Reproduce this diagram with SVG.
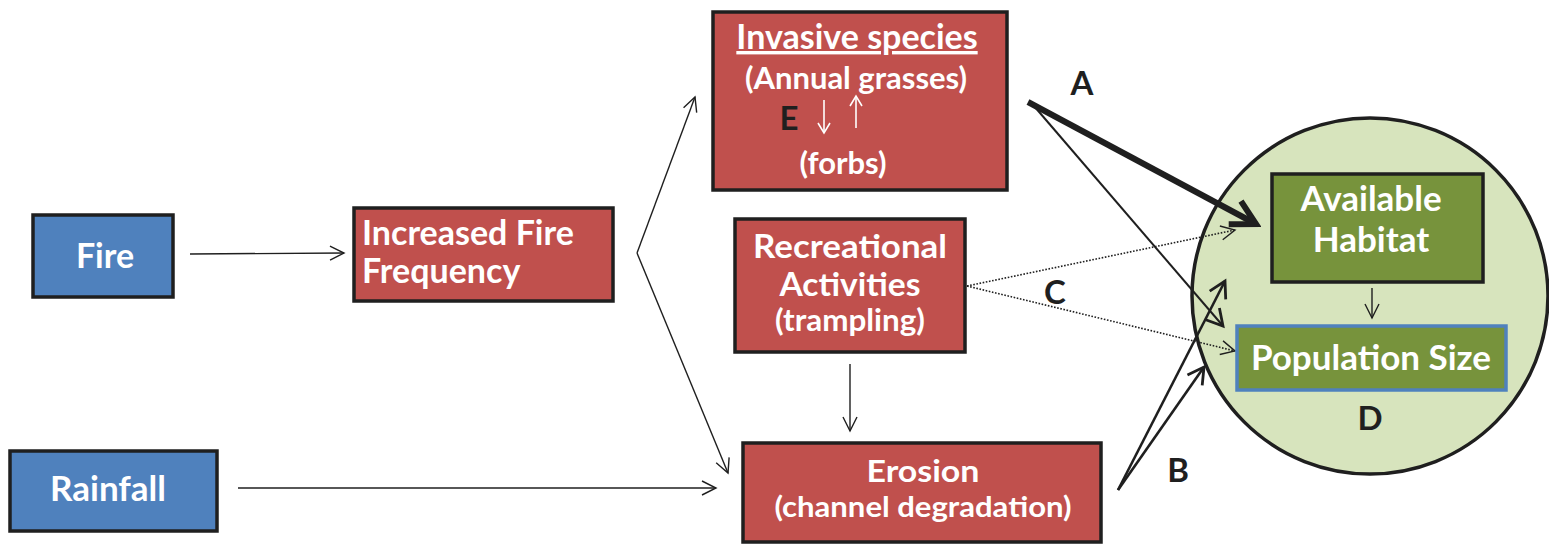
<svg xmlns="http://www.w3.org/2000/svg" width="1549" height="545" viewBox="0 0 1549 545">
<style>
.red{fill:#c0504d;stroke:#1f1f1f;stroke-width:3.5}
.blue{fill:#4f81bd;stroke:#1f1f1f;stroke-width:3.5}
.green{fill:#77933c;stroke:#1f1f1f;stroke-width:3.5}
.t{font-family:Lato,"Open Sans",sans-serif;font-weight:bold;fill:#fff;text-anchor:middle}
.lbl{font-family:Lato,"Open Sans",sans-serif;font-weight:bold;fill:#1f1f1f;text-anchor:middle;font-size:33px}
.ln{stroke:#1f1f1f;stroke-width:1.4;fill:none}
.dot{stroke:#1f1f1f;stroke-width:1.6;fill:none;stroke-dasharray:1.6 1.6}
</style>
<defs>
<marker id="open" markerUnits="userSpaceOnUse" viewBox="-16 -9 18 18" markerWidth="18" markerHeight="18" refX="0" refY="0" orient="auto">
<path d="M-14,-7 L0,0 L-14,7" fill="none" stroke="#1f1f1f" stroke-width="1.4"/>
</marker>
<marker id="openB" markerUnits="userSpaceOnUse" viewBox="-20 -12 24 24" markerWidth="24" markerHeight="24" refX="0" refY="0" orient="auto">
<path d="M-16,-9 L0,0 L-16,9" fill="none" stroke="#1f1f1f" stroke-width="2.8"/>
</marker>
<marker id="openA" markerUnits="userSpaceOnUse" viewBox="-30 -20 36 40" markerWidth="36" markerHeight="40" refX="0" refY="0" orient="auto">
<path d="M-24,-13 L0,0 L-24,13" fill="none" stroke="#1f1f1f" stroke-width="6"/>
</marker>
<marker id="openW" markerUnits="userSpaceOnUse" viewBox="-14 -8 16 16" markerWidth="16" markerHeight="16" refX="0" refY="0" orient="auto">
<path d="M-10,-6 L0,0 L-10,6" fill="none" stroke="#fff" stroke-width="1.6"/>
</marker>
</defs>

<g id="habitat-circle">
<circle cx="1370" cy="296" r="178" fill="#d7e4bd" stroke="#1f1f1f" stroke-width="3.5"/>
</g>

<g id="connectors">
<line class="ln" x1="190" y1="254" x2="344" y2="253" marker-end="url(#open)"/>
<line class="ln" x1="637" y1="253" x2="695" y2="97" marker-end="url(#open)"/>
<line class="ln" x1="637" y1="253" x2="728" y2="473" marker-end="url(#open)"/>
<line class="ln" x1="238" y1="488" x2="716" y2="488" marker-end="url(#open)"/>
<line class="ln" x1="850" y1="364" x2="850" y2="431" marker-end="url(#open)"/>
<line x1="1028" y1="102" x2="1256" y2="224" stroke="#1f1f1f" stroke-width="6" marker-end="url(#openA)"/>
<line class="ln" x1="1034" y1="106" x2="1223" y2="326" style="stroke-width:2" marker-end="url(#openB)"/>
<line class="dot" x1="967" y1="286" x2="1235" y2="230" marker-end="url(#open)"/>
<line class="dot" x1="967" y1="286" x2="1235" y2="351" marker-end="url(#open)"/>
<line x1="1118" y1="490" x2="1225" y2="281" stroke="#1f1f1f" stroke-width="2.6" marker-end="url(#openB)"/>
<line x1="1118" y1="490" x2="1204" y2="367" stroke="#1f1f1f" stroke-width="2.6" marker-end="url(#openB)"/>
<line class="ln" x1="1372" y1="288" x2="1372" y2="318" marker-end="url(#open)"/>
</g>

<g id="fire">
<rect class="blue" x="33" y="215" width="140" height="82"/>
<text class="t" x="105" y="268" font-size="34">Fire</text>
</g>

<g id="rainfall">
<rect class="blue" x="10" y="451" width="207" height="80"/>
<text class="t" x="108" y="501" font-size="35">Rainfall</text>
</g>

<g id="increased-fire-frequency">
<rect class="red" x="354" y="208" width="259" height="93"/>
<text class="t" x="362" y="245" font-size="34" style="text-anchor:start">Increased Fire</text>
<text class="t" x="362" y="283" font-size="34" style="text-anchor:start">Frequency</text>
</g>

<g id="invasive-species">
<rect class="red" x="713" y="12" width="294" height="178"/>
<text class="t" x="857" y="49" font-size="34" text-decoration="underline">Invasive species</text>
<text class="t" x="856" y="89" font-size="31">(Annual grasses)</text>
<text class="lbl" x="789" y="130" font-size="30">E</text>
<line x1="824" y1="100" x2="824" y2="133" stroke="#fff" stroke-width="1.6" marker-end="url(#openW)"/>
<line x1="856" y1="128" x2="856" y2="96" stroke="#fff" stroke-width="1.6" marker-end="url(#openW)"/>
<text class="t" x="843" y="174" font-size="31">(forbs)</text>
</g>

<g id="recreational-activities">
<rect class="red" x="735" y="219" width="230" height="133"/>
<text class="t" x="850" y="258" font-size="32" textLength="194" lengthAdjust="spacingAndGlyphs">Recreational</text>
<text class="t" x="850" y="296" font-size="32" textLength="141" lengthAdjust="spacingAndGlyphs">Activities</text>
<text class="t" x="850" y="331" font-size="30" textLength="150" lengthAdjust="spacingAndGlyphs">(trampling)</text>
</g>

<g id="erosion">
<rect class="red" x="743" y="443" width="358" height="99"/>
<text class="t" x="923" y="482" font-size="31" textLength="113" lengthAdjust="spacingAndGlyphs">Erosion</text>
<text class="t" x="923" y="517" font-size="29" textLength="297" lengthAdjust="spacingAndGlyphs">(channel degradation)</text>
</g>

<g id="available-habitat">
<rect class="green" x="1272" y="174" width="211" height="108"/>
<text class="t" x="1371" y="211" font-size="35">Available</text>
<text class="t" x="1371" y="252" font-size="35">Habitat</text>
</g>

<g id="population-size">
<rect x="1237" y="326" width="269" height="64" fill="#77933c" stroke="#4f81bd" stroke-width="3.5"/>
<text class="t" x="1371" y="370" font-size="35">Population Size</text>
</g>

<g id="labels">
<text class="lbl" x="1082" y="95">A</text>
<text class="lbl" x="1055" y="304">C</text>
<text class="lbl" x="1178" y="482">B</text>
<text class="lbl" x="1370" y="430">D</text>
</g>
</svg>
